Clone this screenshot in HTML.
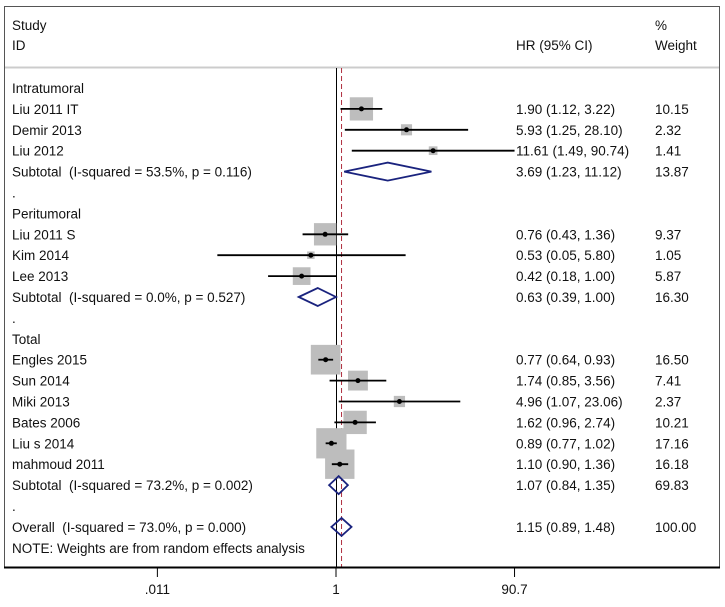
<!DOCTYPE html>
<html><head><meta charset="utf-8"><style>
body{margin:0;background:#fff;}
svg text{font-family:"Liberation Sans",Arial,sans-serif;font-size:13.5px;fill:#111;white-space:pre;}
</style></head><body>
<svg id="chart" width="725" height="602" xmlns="http://www.w3.org/2000/svg">
<rect x="4.5" y="6.5" width="715" height="561" fill="none" stroke="#555" stroke-width="1"/>
<line x1="5" y1="67.5" x2="719" y2="67.5" stroke="#ccc" stroke-width="2"/>
<text x="12" y="30">Study</text>
<text x="12" y="50">ID</text>
<text x="516" y="50">HR (95% CI)</text>
<text x="655" y="30">%</text>
<text x="655" y="50">Weight</text>
<g id="marks"></g>
<line x1="4" y1="567.5" x2="720" y2="567.5" stroke="#000" stroke-width="2"/>
<g id="axis"></g>
</svg>
<script>
const rowLabels=["Intratumoral","Liu 2011 IT","Demir 2013","Liu 2012","Subtotal  (I-squared = 53.5%, p = 0.116)",".","Peritumoral","Liu 2011 S","Kim 2014","Lee 2013","Subtotal  (I-squared = 0.0%, p = 0.527)",".","Total","Engles 2015","Sun 2014","Miki 2013","Bates 2006","Liu s 2014","mahmoud 2011","Subtotal  (I-squared = 73.2%, p = 0.002)",".","Overall  (I-squared = 73.0%, p = 0.000)","NOTE: Weights are from random effects analysis"];
const rowTypes=["h","s","s","s","d","b","h","s","s","s","d","b","h","s","s","s","s","s","s","d","b","d","n"];
const hr=[null,1.90,5.93,11.61,3.69,null,null,0.76,0.53,0.42,0.63,null,null,0.77,1.74,4.96,1.62,0.89,1.10,1.07,null,1.15,null];
const lo=[null,1.12,1.25,1.49,1.23,null,null,0.43,0.05,0.18,0.39,null,null,0.64,0.85,1.07,0.96,0.77,0.90,0.84,null,0.89,null];
const hi=[null,3.22,28.10,90.74,11.12,null,null,1.36,5.80,1.00,1.00,null,null,0.93,3.56,23.06,2.74,1.02,1.36,1.35,null,1.48,null];
const weights=[null,10.15,2.32,1.41,13.87,null,null,9.37,1.05,5.87,16.30,null,null,16.50,7.41,2.37,10.21,17.16,16.18,69.83,null,100.00,null];
const tickVals=[0.011,1,90.7];
const tickLabels=[".011","1","90.7"];
const overallHR=1.15;
const NS="http://www.w3.org/2000/svg";
const xs=v=>336+91.2*Math.log10(v);
const ys=i=>88+i*20.9;
const g=document.getElementById('marks');
function mk(t,a,p){const e=document.createElementNS(NS,t);for(const k in a)e.setAttribute(k,a[k]);(p||g).appendChild(e);return e;}
const fmt=v=>v.toFixed(2);
let l=mk('line',{x1:336.5,y1:68,x2:336.5,y2:567,stroke:'#000','stroke-width':1});


l=mk('line',{x1:xs(overallHR),y1:68,x2:xs(overallHR),y2:567,stroke:'#b03040','stroke-width':1,'stroke-dasharray':'5,3'});


rowLabels.forEach((lab,i)=>{
  const y=ys(i);
  const t=mk('text',{x:12,y:y+5});t.textContent=lab;
  
  
  if(hr[i]==null)return;
  const ci=mk('text',{x:516,y:y+5});ci.textContent=fmt(hr[i])+" ("+fmt(lo[i])+", "+fmt(hi[i])+")";
  
  
  const w=mk('text',{x:655,y:y+5});w.textContent=fmt(weights[i]);
  
  
  if(rowTypes[i]==='s'){
    const s=7.3*Math.sqrt(weights[i]);
    const b=mk('rect',{x:xs(hr[i])-s/2,y:y-s/2,width:s,height:s,fill:'#bdbdbd'});
    
    
    const c=mk('line',{x1:xs(lo[i]),y1:y,x2:xs(hi[i]),y2:y,stroke:'#000','stroke-width':1.8});
    
    
    const p=mk('circle',{cx:xs(hr[i]),cy:y,r:2.5,fill:'#000'});
    
    
  } else {
    const d=mk('polygon',{points:`${xs(lo[i])},${y} ${xs(hr[i])},${y-9} ${xs(hi[i])},${y} ${xs(hr[i])},${y+9}`,fill:'none',stroke:'#1a237e','stroke-width':1.8});
    
    
  }
});
const ax=document.getElementById('axis');
tickVals.forEach((v,i)=>{
  const x=xs(v);
  const tk=mk('line',{x1:x,y1:568,x2:x,y2:577,stroke:'#000','stroke-width':1},ax);
  
  
  const tl=mk('text',{x:x,y:594,'text-anchor':'middle'},ax);tl.textContent=tickLabels[i];
  
  
});
</script>
</body></html>
